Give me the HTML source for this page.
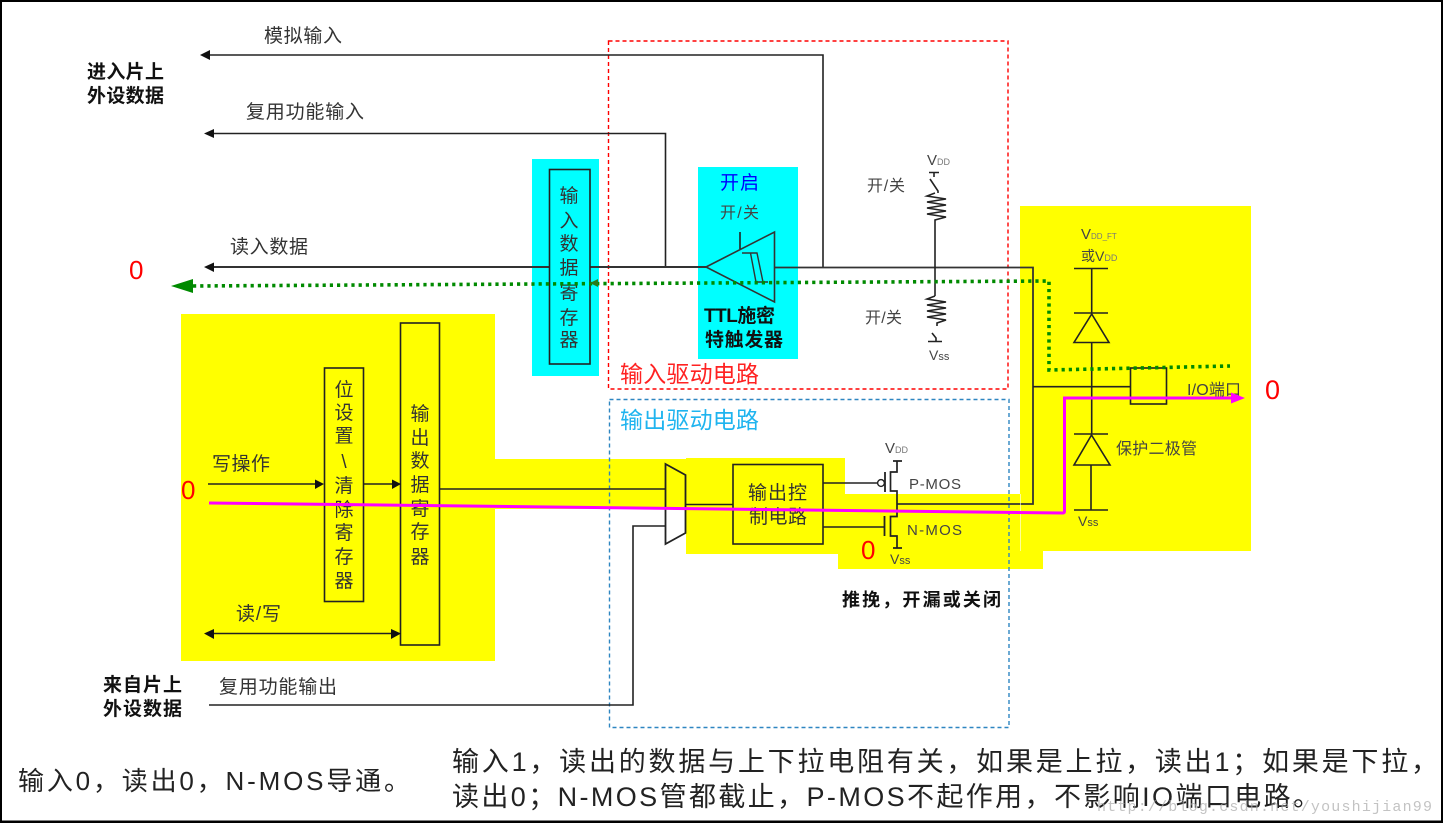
<!DOCTYPE html>
<html lang="zh">
<head>
<meta charset="utf-8">
<title>IO</title>
<style>
html,body{margin:0;padding:0;background:#fff}
svg{display:block}
text{font-family:"Liberation Sans","Noto Sans CJK SC",sans-serif;fill:#333;font-size:19px}
.b{font-weight:bold;fill:#111}
.s{font-size:16px;fill:#444}
.r{fill:#f00;font-size:26px}
.big{font-size:27px;fill:#222}
.sub{font-size:9px;fill:#777}
.v{font-size:15px;fill:#444}
</style>
</head>
<body>
<svg width="1443" height="823" viewBox="0 0 1443 823" xmlns="http://www.w3.org/2000/svg">
<rect width="1443" height="823" fill="#fff"/>

<!-- yellow highlight -->
<g fill="#ffff00">
<rect x="181" y="314" width="314" height="347"/>
<rect x="495" y="459" width="191" height="50"/>
<rect x="686" y="458" width="159" height="96"/>
<rect x="845" y="494" width="175" height="60"/>
<rect x="838" y="540" width="205" height="29"/>
<rect x="1020" y="206" width="231" height="345"/>
</g>
<!-- cyan highlight -->
<g fill="#00ffff">
<rect x="532" y="159" width="67" height="217"/>
<rect x="698" y="167" width="100" height="192"/>
</g>

<!-- dashed frames -->
<rect x="608.5" y="41" width="399.5" height="348" fill="none" stroke="#f00" stroke-width="1.4" stroke-dasharray="4 3"/>
<rect x="609.5" y="399.5" width="399.5" height="328" fill="none" stroke="#2e86c1" stroke-width="1.4" stroke-dasharray="4 3"/>

<!-- wires -->
<g fill="none" stroke="#222" stroke-width="1.6">
<path d="M208 55H823V267"/>
<path d="M212 133.500H665.500V267"/>
<path d="M212 267H549M590 267H706" stroke-width="2" stroke="#333"/>
<path d="M775 267.500H1033V504H897" stroke="#333" stroke-width="1.8"/>
<path d="M208 484H316M363 484H392"/>
<path d="M212 633.500H392"/>
<path d="M440 489H665"/>
<path d="M209 705H633V526H665"/>
<path d="M686 504.500H733"/>
<rect x="324.500" y="368" width="39" height="233.500"/>
<rect x="400.500" y="323" width="39" height="322"/>
<rect x="549.500" y="169.500" width="40.500" height="194.500"/>
<rect x="733" y="464.500" width="90" height="79.500"/>
<path d="M665.500 464L685.500 475V533L665.500 544Z" stroke-width="1.8"/>
<!-- Schmitt trigger -->
<path d="M706 267L774.500 232V302Z" stroke="#333" stroke-width="1.6"/>
<path d="M740 232V249"/>
<path d="M742 253H757L763 282H768M750.500 253L756 282H763" stroke="#333" stroke-width="1.4"/>
<!-- MOS -->
<path d="M823 483H877M823 527H884"/>
<circle cx="881" cy="483" r="3.400" stroke-width="1.400"/>
<path d="M885 472V492M884.500 516V536" stroke-width="1.8"/>
<path d="M893 461H902M897 461V472H890.500V491H897V516.500H890.500V536H897V548M893 548H902" stroke-width="1.7"/>
<!-- pull resistors -->
<path d="M929 172.500H939M934 172.500V177M930 179L938 191V193"/>
<path d="M935 193L927 196L946 199L927 202L946 205L927 208L946 211L927 214L946 217L935 220V296"/>
<path d="M935 296L927 299L946 302L927 305L946 308L927 311L946 314L927 317L946 320L937 323V326"/>
<path d="M932 333L936 338V341.500M928 341.500H942"/>
<!-- diodes and IO -->
<path d="M1074 268.500H1108M1091.700 268.500V313M1074 313H1108"/>
<path d="M1091.700 314L1109 342.500H1074Z"/>
<path d="M1091.700 343V434M1074 434H1108"/>
<path d="M1091.500 435L1110 465H1074Z"/>
<path d="M1091 465V510M1074 510H1108"/>
<path d="M1033 386.700H1130"/>
<rect x="1130.500" y="368" width="36" height="36"/>
</g>
<path d="M1020.500 494V551" stroke="#fff" stroke-width="1" opacity=".6"/>

<!-- arrowheads -->
<g fill="#111">
<path d="M200 55L210 50V60Z"/>
<path d="M204 133.500L214 129V138Z"/>
<path d="M204 267L214 262.500V272Z"/>
<path d="M324 484L315 479.500V489Z"/>
<path d="M401 484L392 479.500V489Z"/>
<path d="M204 633.500L214 629V639Z"/>
<path d="M401 633.500L391 629V639Z"/>
</g>

<!-- labels -->
<text x="264" y="42" textLength="78">模拟输入</text>
<text class="b" x="87" y="78" textLength="77">进入片上</text>
<text class="b" x="87" y="102" textLength="77">外设数据</text>
<text x="246" y="118" textLength="118">复用功能输入</text>
<text x="230" y="253" textLength="78">读入数据</text>
<text class="r" x="129" y="279">0</text>
<text x="212" y="470" textLength="58">写操作</text>
<text class="r" x="181" y="499">0</text>
<text x="236" y="620" textLength="45">读/写</text>
<text class="b" x="103" y="691" textLength="79">来自片上</text>
<text class="b" x="103" y="715" textLength="79">外设数据</text>
<text x="219" y="693" textLength="118">复用功能输出</text>

<g text-anchor="middle">
<text x="344" y="396">位</text><text x="344" y="419">设</text><text x="344" y="442">置</text><text x="344" y="468">\</text><text x="344" y="492">清</text><text x="344" y="516">除</text><text x="344" y="539">寄</text><text x="344" y="563">存</text><text x="344" y="587">器</text>
<text x="420" y="420">输</text><text x="420" y="444">出</text><text x="420" y="467">数</text><text x="420" y="491">据</text><text x="420" y="515">寄</text><text x="420" y="538">存</text><text x="420" y="563">器</text>
<text x="569" y="202">输</text><text x="569" y="227">入</text><text x="569" y="250">数</text><text x="569" y="274">据</text><text x="569" y="299">寄</text><text x="569" y="324">存</text><text x="569" y="346">器</text>
</g>

<text x="720" y="189" textLength="39" style="fill:#0000ff;font-size:19px">开启</text>
<text class="s" x="720" y="218" textLength="39">开/关</text>
<text class="b" x="704" y="322" textLength="71">TTL施密</text>
<text class="b" x="705" y="346" textLength="78">特触发器</text>
<text x="620" y="382" textLength="139" style="fill:#f22;font-size:23px">输入驱动电路</text>
<text x="620" y="428" textLength="139" style="fill:#1fb4ef;font-size:23px">输出驱动电路</text>
<text x="748" y="499" textLength="59">输出控</text>
<text x="749" y="523" textLength="58">制电路</text>
<text x="909" y="489" textLength="52" style="font-size:15px;fill:#444">P-MOS</text>
<text x="907" y="535" textLength="55" style="font-size:15px;fill:#444">N-MOS</text>
<text class="v" x="885" y="453">V<tspan class="sub">DD</tspan></text>
<text class="v" x="890" y="564" style="font-size:14px">V<tspan style="font-size:11px">ss</tspan></text>
<text class="r" x="861" y="559">0</text>
<text class="b" x="842" y="606" textLength="159" style="font-size:18px">推挽，开漏或关闭</text>
<text class="s" x="867" y="191" textLength="38">开/关</text>
<text class="s" x="865" y="323" textLength="37">开/关</text>
<text class="v" x="927" y="165">V<tspan class="sub">DD</tspan></text>
<text class="v" x="929" y="360" style="font-size:14px">V<tspan style="font-size:11px">ss</tspan></text>
<text class="v" x="1081" y="239">V<tspan class="sub" style="font-size:8px">DD_FT</tspan></text>
<text class="v" x="1081" y="261" style="font-size:14px">或V<tspan class="sub">DD</tspan></text>
<text class="s" x="1187" y="395" textLength="54">I/O端口</text>
<text class="r" x="1265" y="399" style="font-size:27px">0</text>
<text class="s" x="1116" y="454" textLength="81">保护二极管</text>
<text class="v" x="1078" y="526" style="font-size:14px">V<tspan style="font-size:11px">ss</tspan></text>

<!-- bottom notes -->
<text class="big" style="font-size:26px" x="18" y="790" textLength="392">输入0，读出0，N-MOS导通。</text>
<text class="big" x="452" y="771" textLength="986">输入1，读出的数据与上下拉电阻有关，如果是上拉，读出1；如果是下拉，</text>
<text class="big" x="452" y="806" textLength="868">读出0；N-MOS管都截止，P-MOS不起作用，不影响IO端口电路。</text>
<text x="1097" y="811" textLength="335" style="font-family:'Liberation Mono',monospace;font-size:15px;fill:#aaa;opacity:.7">http://blog.csdn.net/youshijian99</text>

<!-- signal paths -->
<path d="M193 286L1049 281V370L1230 366" fill="none" stroke="#008a00" stroke-width="3.600" stroke-dasharray="3.200 4"/>
<path d="M171 286L193 279V293Z" fill="#008a00"/>
<path d="M590 283L598 279V287Z" fill="#2a7a1a"/>
<path d="M209 503L1063 513Q1064.500 513 1064.500 511V398L1233 398" fill="none" stroke="#ff00ff" stroke-width="3"/>
<path d="M1245 398L1231 392.500V403.500Z" fill="#ff00ff"/>

<!-- outer frame -->
<rect x="1" y="1" width="1441" height="820.500" fill="none" stroke="#000" stroke-width="2"/>
<rect x="0" y="821" width="1443" height="2" fill="#000"/>
</svg>
</body>
</html>
